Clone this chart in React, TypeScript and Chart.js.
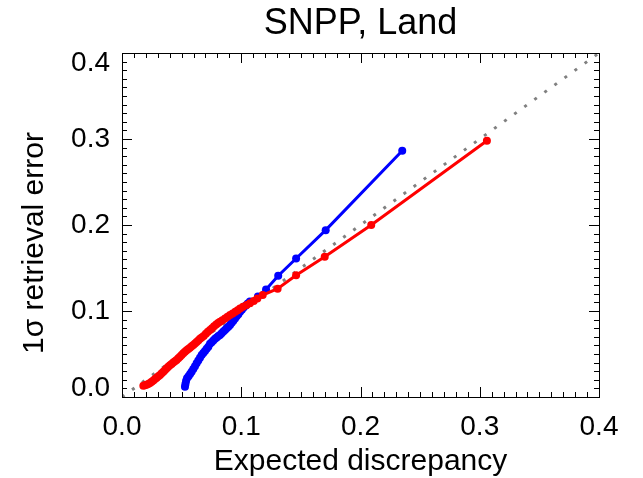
import React, { useEffect, useRef } from "react";
import { Chart, registerables } from "chart.js";

Chart.register(...registerables);

const redX = [
  0.0179, 0.0192, 0.0206, 0.022, 0.0235, 0.0249, 0.0263, 0.0277, 0.0291, 0.0305,
  0.0319, 0.0333, 0.0347, 0.0361, 0.0375, 0.0388, 0.0402, 0.0416, 0.043, 0.0444,
  0.0458, 0.0472, 0.0486, 0.05, 0.0514, 0.0528, 0.0542, 0.0556, 0.057, 0.0584,
  0.0598, 0.0612, 0.0626, 0.064, 0.0654, 0.0668, 0.0685, 0.0703, 0.072, 0.0738,
  0.0755, 0.0772, 0.079, 0.0806, 0.0822, 0.0842, 0.0864, 0.0885, 0.0906, 0.0928,
  0.095, 0.097, 0.099, 0.1015, 0.1045, 0.1073, 0.1105, 0.1135, 0.118, 0.1305,
  0.146, 0.17, 0.209, 0.306,
];
const redY = [
  0.013, 0.0136, 0.0143, 0.0152, 0.0163, 0.0178, 0.0193, 0.0208, 0.0224, 0.024,
  0.0256, 0.0276, 0.0295, 0.0315, 0.0334, 0.0353, 0.0369, 0.0384, 0.04, 0.0415,
  0.043, 0.045, 0.0469, 0.0488, 0.0508, 0.0527, 0.0543, 0.0558, 0.0574, 0.059,
  0.0605, 0.0622, 0.064, 0.0658, 0.0676, 0.0692, 0.071, 0.0735, 0.0758, 0.078,
  0.08, 0.0822, 0.0843, 0.086, 0.0876, 0.0893, 0.0912, 0.0933, 0.0953, 0.0972,
  0.0992, 0.101, 0.103, 0.1048, 0.107, 0.109, 0.1115, 0.1145, 0.1186, 0.126,
  0.1415, 0.163, 0.2, 0.298,
];

const blueX = [
  0.0528, 0.0532, 0.0537, 0.0545, 0.0558, 0.0571, 0.0584, 0.0598, 0.0612, 0.0626,
  0.064, 0.0654, 0.0668, 0.0682, 0.0696, 0.071, 0.0724, 0.0738, 0.0752, 0.0766,
  0.078, 0.0794, 0.0808, 0.0822, 0.0836, 0.085, 0.0864, 0.0878, 0.0892, 0.0906,
  0.092, 0.0934, 0.0948, 0.0962, 0.0976, 0.099, 0.1005, 0.102, 0.1038, 0.1055,
  0.1073, 0.114, 0.1208, 0.131, 0.146, 0.1708, 0.235,
];
const blueY = [
  0.012, 0.015, 0.0185, 0.0217, 0.024, 0.0267, 0.0294, 0.0326, 0.0359, 0.0392,
  0.0424, 0.0456, 0.0488, 0.0512, 0.0536, 0.056, 0.0585, 0.0618, 0.0638, 0.0658,
  0.0678, 0.0693, 0.0708, 0.0722, 0.0742, 0.0762, 0.078, 0.0798, 0.0818, 0.0837,
  0.0862, 0.0888, 0.0913, 0.0938, 0.0963, 0.099, 0.1015, 0.104, 0.1065, 0.1088,
  0.111, 0.117, 0.125, 0.141, 0.161, 0.194, 0.2864,
];

const oneToOneX = [0, 0.4];
const oneToOneY = [0, 0.4];

const tickValues = [0, 0.1, 0.2, 0.3, 0.4];
const tickLabels = ["0.0", "0.1", "0.2", "0.3", "0.4"];

const titleText = "SNPP, Land";
const xTitle = "Expected discrepancy";
const yTitle = "1\u03c3 retrieval error";

const FONT = "'Liberation Sans', Arial, Helvetica, sans-serif";

const framePlugin = {
  id: "idlFrame",
  afterDraw(chart: any) {
    const { ctx, chartArea } = chart;
    const xs = chart.scales.x;
    const ys = chart.scales.y;
    const { left, right, top, bottom } = chartArea;
    ctx.save();
    ctx.strokeStyle = "#000";
    ctx.lineWidth = 1;
    ctx.strokeRect(left + 0.5, top + 0.5, right - left, bottom - top);
    ctx.beginPath();
    for (let i = 0; i <= 40; i++) {
      const v = i * 0.01;
      const len = i % 10 === 0 ? 10 : 5;
      const px = Math.round(xs.getPixelForValue(v)) + 0.5;
      const py = Math.round(ys.getPixelForValue(v)) + 0.5;
      ctx.moveTo(px, bottom);
      ctx.lineTo(px, bottom - len);
      ctx.moveTo(px, top);
      ctx.lineTo(px, top + len);
      ctx.moveTo(left, py);
      ctx.lineTo(left + len, py);
      ctx.moveTo(right, py);
      ctx.lineTo(right - len, py);
    }
    ctx.stroke();

    ctx.fillStyle = "#000";
    ctx.font = `28px ${FONT}`;
    ctx.textBaseline = "middle";
    ctx.textAlign = "right";
    tickValues.forEach((v, i) => {
      let py = ys.getPixelForValue(v);
      if (i === 0) py -= 9;
      if (i === tickValues.length - 1) py += 10;
      ctx.fillText(tickLabels[i], left - 12, py);
    });
    ctx.textAlign = "center";
    tickValues.forEach((v, i) => {
      const px = xs.getPixelForValue(v);
      ctx.fillText(tickLabels[i], px, bottom + 30);
    });

    ctx.font = `30px ${FONT}`;
    ctx.fillText(xTitle, (left + right) / 2, bottom + 65);

    ctx.save();
    ctx.translate(35, 243);
    ctx.rotate(-Math.PI / 2);
    ctx.fillText(yTitle, 0, 0);
    ctx.restore();

    ctx.font = `36px ${FONT}`;
    ctx.fillText(titleText, (left + right) / 2, 24);
    ctx.restore();
  },
};

export default function App() {
  const canvasRef = useRef<HTMLCanvasElement | null>(null);

  useEffect(() => {
    const canvas = canvasRef.current;
    if (!canvas) return;
    const toPts = (xs: number[], ys: number[]) => xs.map((x, i) => ({ x, y: ys[i] }));
    const chart = new Chart(canvas, {
      type: "scatter",
      data: {
        datasets: [
          {
            data: toPts(redX, redY),
            showLine: true,
            borderColor: "#ff0000",
            backgroundColor: "#ff0000",
            borderWidth: 3,
            pointRadius: 4,
            pointBorderWidth: 0,
            pointBackgroundColor: "#ff0000",
          },
          {
            data: toPts(blueX, blueY),
            showLine: true,
            borderColor: "#0000ff",
            backgroundColor: "#0000ff",
            borderWidth: 3,
            pointRadius: 4,
            pointBorderWidth: 0,
            pointBackgroundColor: "#0000ff",
          },
          {
            data: toPts(oneToOneX, oneToOneY),
            showLine: true,
            borderColor: "#808080",
            borderWidth: 3,
            borderDash: [3, 9.4],
            pointRadius: 0,
          },
        ],
      },
      options: {
        responsive: false,
        animation: false,
        layout: { padding: { left: 122, right: 44, top: 53, bottom: 81 } },
        plugins: { legend: { display: false }, tooltip: { enabled: false }, title: { display: false } },
        scales: {
          x: { type: "linear", min: 0, max: 0.4, display: false },
          y: { type: "linear", min: 0, max: 0.4, display: false },
        },
      },
      plugins: [framePlugin],
    } as any);
    return () => chart.destroy();
  }, []);

  return (
    <div style={{ position: "fixed", left: 0, top: 0, width: 643, height: 478, background: "#fff" }}>
      <canvas ref={canvasRef} width={643} height={478} style={{ display: "block" }} />
    </div>
  );
}
